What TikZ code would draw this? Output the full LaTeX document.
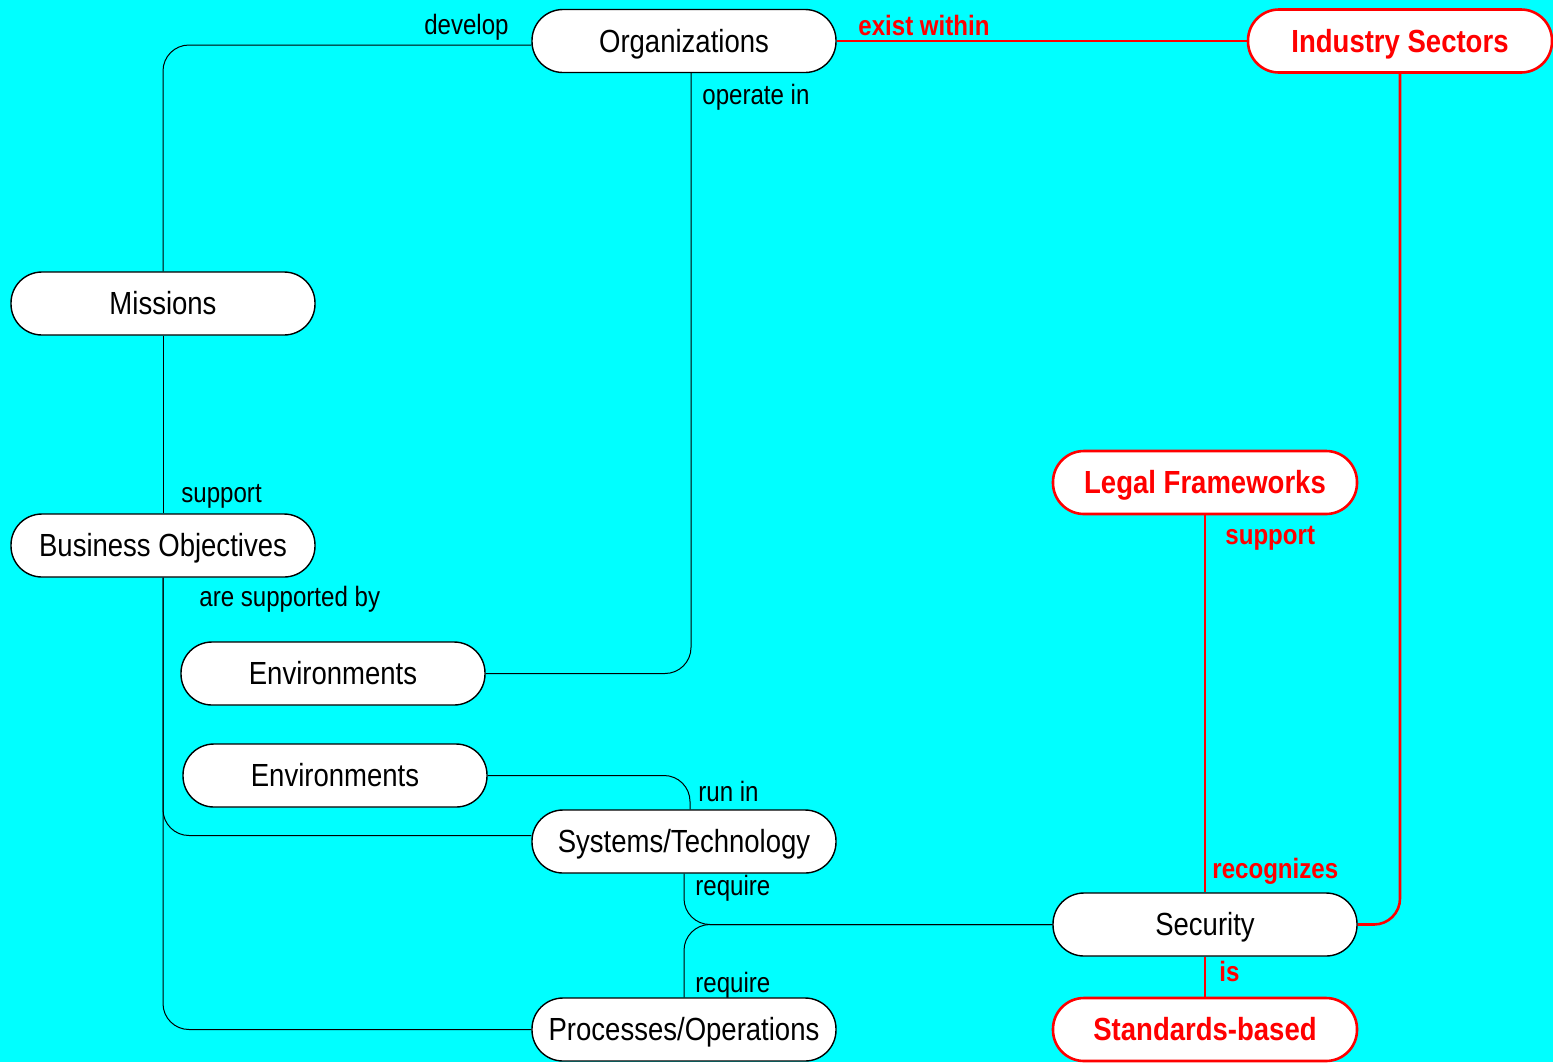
\documentclass[tikz,border=0pt]{standalone}
\usepackage{fontspec}
\setmainfont{Liberation Sans}
\newfontfamily\diafont[FakeStretch=0.86]{Liberation Sans}
\definecolor{bgcyan}{RGB}{0,255,255}
\definecolor{relred}{RGB}{255,0,0}
\pgfdeclarelayer{backfill}
\pgfdeclarelayer{lines}
\pgfsetlayers{backfill,lines,main}
\begin{document}
\begin{tikzpicture}[x=0.5pt,y=-0.5pt,
  concept/.style={draw=black, line width=0.7pt, fill=white, rounded corners=15.5pt,
    minimum width=152pt, minimum height=31.5pt, inner sep=0pt,
    text height=11pt, text depth=0pt,
    font=\diafont\fontsize{16pt}{18pt}\selectfont},
  redconcept/.style={concept, draw=relred, line width=1.3pt, text=relred,
    font=\diafont\bfseries\fontsize{16pt}{18pt}\selectfont},
  link/.style={draw=black, line width=0.5pt, rounded corners=13pt},
  redlink/.style={draw=relred, line width=1.3pt, rounded corners=13pt},
  lbl/.style={inner sep=0pt, font=\diafont\fontsize{14pt}{16pt}\selectfont},
  redlbl/.style={lbl, text=relred, font=\diafont\bfseries\fontsize{14pt}{16pt}\selectfont}
]
\begin{pgfonlayer}{backfill}
\fill[bgcyan] (0,0) rectangle (1553,1062);
\end{pgfonlayer}
\useasboundingbox (0,0) rectangle (1553,1062);

% nodes
\node[concept] (org) at (684,41) {Organizations};
\node[redconcept] (ind) at (1400,41) {Industry Sectors};
\node[concept] (mis) at (163,303.5) {Missions};
\node[concept] (bo) at (163,545.5) {Business Objectives};
\node[concept] (env1) at (333,673.5) {Environments};
\node[concept] (env2) at (335,775.5) {Environments};
\node[concept] (sys) at (684,841.5) {Systems/Technology};
\node[concept] (proc) at (684,1029.5) {Processes/Operations};
\node[redconcept] (legal) at (1205,482.5) {Legal Frameworks};
\node[concept] (sec) at (1205,924.5) {Security};
\node[redconcept] (std) at (1205,1029.5) {Standards-based};

% connectors
\begin{pgfonlayer}{lines}
\draw[link] ([yshift=-2pt]org.west) -| (mis.north);
\draw[link] (mis.south) -- (bo.north);
\draw[link] (env1.east) -| ([xshift=3.5pt]org.south);
\draw[link] (env2.east) -| ([xshift=3pt]sys.north);
\draw[link] (bo.south) |- ([yshift=3pt]sys.west);
\draw[link] (bo.south) |- (proc.west);
\draw[link] (sys.south) |- (sec.west);
\draw[link] (proc.north) |- (sec.west);
\draw[redlink] (org.east) -- (ind.west);
\draw[redlink] (ind.south) |- (sec.east);
\draw[redlink] (legal.south) -- (sec.north);
\draw[redlink] (sec.south) -- (std.north);
\end{pgfonlayer}

% labels
\node[lbl, anchor=east] (ldevelop) at (509,27) {develop};
\node[lbl, anchor=west] (loperate) at (702,97) {operate in};
\node[lbl, anchor=west] (lsupport) at (181,496) {support};
\node[lbl, anchor=west] (lsupported) at (199,599) {are supported by};
\node[lbl, anchor=west] (lrunin) at (698,791) {run in};
\node[lbl, anchor=west] (lreq1) at (695,888) {require};
\node[lbl, anchor=west] (lreq2) at (695,985) {require};
\node[redlbl, anchor=west] (lexist) at (858,25) {exist within};
\node[redlbl, anchor=west] (lrsupport) at (1225,538) {support};
\node[redlbl, anchor=west] (lrecog) at (1212,871) {recognizes};
\node[redlbl, anchor=west] (lis) at (1219,971) {is};
\end{tikzpicture}
\end{document}
